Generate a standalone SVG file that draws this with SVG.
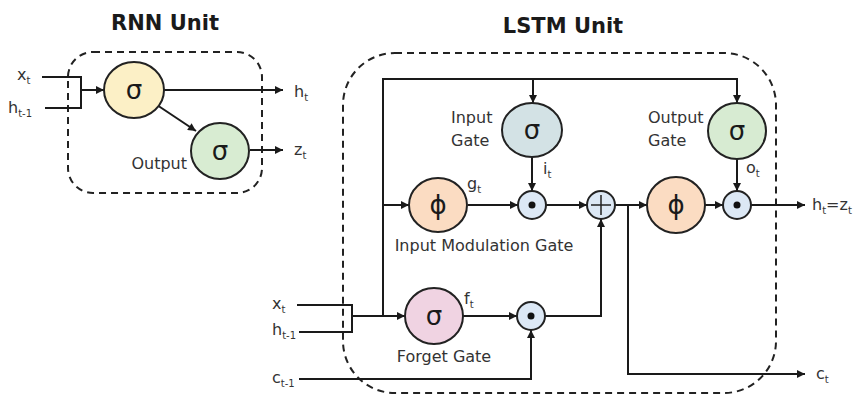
<svg xmlns="http://www.w3.org/2000/svg" width="863" height="397" viewBox="0 0 863 397">
<defs>
<marker id="arr" viewBox="0 0 10 10" markerUnits="userSpaceOnUse" markerWidth="9" markerHeight="8" refX="10" refY="5" orient="auto"><path d="M0,0 L10,5 L0,10 z" fill="#1a1a1a"/></marker>
</defs>
<style>
.title{font-family:"DejaVu Sans",sans-serif;font-weight:bold;font-size:21px;fill:#1a1a1a;text-anchor:middle}
.lbl{font-family:"DejaVu Sans",sans-serif;font-size:16px;fill:#333}
.sym{font-family:"DejaVu Sans",sans-serif;font-size:26px;fill:#1a1a1a;text-anchor:middle}
.sub{font-size:10px}
.box{fill:none;stroke:#222;stroke-width:2;stroke-dasharray:7 5}
.node{stroke:#222;stroke-width:2}
.op{fill:#dce8f5;stroke:#222;stroke-width:2}
.wire{fill:none;stroke:#1a1a1a;stroke-width:2}
.arrow{fill:none;stroke:#1a1a1a;stroke-width:2;marker-end:url(#arr)}
</style>
<rect width="863" height="397" fill="#fff"/>

<text class="title" x="165" y="30">RNN Unit</text>
<text class="title" x="563" y="33">LSTM Unit</text>

<rect class="box" x="68" y="52" width="194" height="141" rx="25"/>
<rect class="box" x="343" y="53" width="433" height="340" rx="52"/>

<g id="connectors">
  <!-- RNN -->
  <path class="wire" d="M42,77 H81 V108 H45"/>
  <path class="arrow" d="M81,90 H104"/>
  <path class="arrow" d="M164,90 H283"/>
  <path class="arrow" d="M157,105 L196,131"/>
  <path class="arrow" d="M250,150 H283"/>
  <!-- LSTM -->
  <path class="wire" d="M297,305 H352 V332 H299"/>
  <path class="arrow" d="M352,316 H405"/>
  <path class="arrow" d="M383,316 V79 H737 V103"/>
  <path class="arrow" d="M533,79 V103"/>
  <path class="arrow" d="M383,205 H409"/>
  <path class="arrow" d="M468,205 H518"/>
  <path class="arrow" d="M532,157 V191"/>
  <path class="arrow" d="M546,205 H587"/>
  <path class="arrow" d="M615,205 H647"/>
  <path class="arrow" d="M628,205 V374 H805"/>
  <path class="arrow" d="M705,205 H723"/>
  <path class="arrow" d="M737,159 V191"/>
  <path class="arrow" d="M751,205 H805"/>
  <path class="arrow" d="M463,316 H517"/>
  <path class="arrow" d="M545,316 H601 V219"/>
  <path class="arrow" d="M299,379 H531 V330"/>
</g>

<g id="rnn-hidden">
  <ellipse class="node" cx="134" cy="90" rx="30" ry="28" fill="#fcf0c6"/>
  <text class="sym" x="134" y="99">σ</text>
</g>
<g id="rnn-output">
  <ellipse class="node" cx="220" cy="151" rx="29" ry="28" fill="#d8ecd2"/>
  <text class="sym" x="220" y="160">σ</text>
  <text class="lbl" x="187" y="169" text-anchor="end">Output</text>
</g>

<g id="input-gate">
  <ellipse class="node" cx="532" cy="130" rx="30" ry="27" fill="#d3e2e5"/>
  <text class="sym" x="532" y="139">σ</text>
  <text class="lbl" x="451" y="123">Input</text>
  <text class="lbl" x="451" y="146">Gate</text>
</g>
<g id="output-gate">
  <ellipse class="node" cx="737" cy="131" rx="29" ry="28" fill="#d7ebd2"/>
  <text class="sym" x="737" y="140">σ</text>
  <text class="lbl" x="648" y="123">Output</text>
  <text class="lbl" x="648" y="146">Gate</text>
</g>
<g id="input-modulation-gate">
  <ellipse class="node" cx="438" cy="205" rx="29" ry="27" fill="#fbdcc2"/>
  <text class="sym" x="438" y="214">ϕ</text>
  <text class="lbl" x="484" y="251" text-anchor="middle">Input Modulation Gate</text>
</g>
<g id="forget-gate">
  <ellipse class="node" cx="434" cy="316" rx="29" ry="28" fill="#f0d3e2"/>
  <text class="sym" x="434" y="325">σ</text>
  <text class="lbl" x="444" y="362" text-anchor="middle">Forget Gate</text>
</g>
<g id="output-phi">
  <ellipse class="node" cx="676" cy="205" rx="29" ry="28" fill="#fbdcc2"/>
  <text class="sym" x="676" y="214">ϕ</text>
</g>
<g id="mult-input">
  <circle class="op" cx="532" cy="205" r="14"/>
  <circle cx="532" cy="205" r="3.5" fill="#111"/>
</g>
<g id="add-cell">
  <circle class="op" cx="601" cy="205" r="14"/>
  <path d="M591,205 H611 M601,195 V215" stroke="#222" stroke-width="1.5"/>
</g>
<g id="mult-output">
  <circle class="op" cx="737" cy="205" r="14"/>
  <circle cx="737" cy="205" r="3.5" fill="#111"/>
</g>
<g id="mult-forget">
  <circle class="op" cx="531" cy="316" r="14"/>
  <circle cx="531" cy="316" r="3.5" fill="#111"/>
</g>

<g id="labels">
  <text class="lbl" x="17" y="80">x<tspan class="sub" dy="4">t</tspan></text>
  <text class="lbl" x="8" y="113">h<tspan class="sub" dy="4">t-1</tspan></text>
  <text class="lbl" x="294" y="97">h<tspan class="sub" dy="4">t</tspan></text>
  <text class="lbl" x="294" y="155">z<tspan class="sub" dy="4">t</tspan></text>
  <text class="lbl" x="543" y="174">i<tspan class="sub" dy="4">t</tspan></text>
  <text class="lbl" x="467" y="189">g<tspan class="sub" dy="4">t</tspan></text>
  <text class="lbl" x="746" y="173">o<tspan class="sub" dy="4">t</tspan></text>
  <text class="lbl" x="464" y="304">f<tspan class="sub" dy="4">t</tspan></text>
  <text class="lbl" x="272" y="309">x<tspan class="sub" dy="4">t</tspan></text>
  <text class="lbl" x="272" y="335">h<tspan class="sub" dy="4">t-1</tspan></text>
  <text class="lbl" x="272" y="383">c<tspan class="sub" dy="4">t-1</tspan></text>
  <text class="lbl" x="816" y="379">c<tspan class="sub" dy="4">t</tspan></text>
  <text class="lbl" x="812" y="210">h<tspan class="sub" dy="4">t</tspan><tspan dy="-4">=z</tspan><tspan class="sub" dy="4">t</tspan></text>
</g>
</svg>
